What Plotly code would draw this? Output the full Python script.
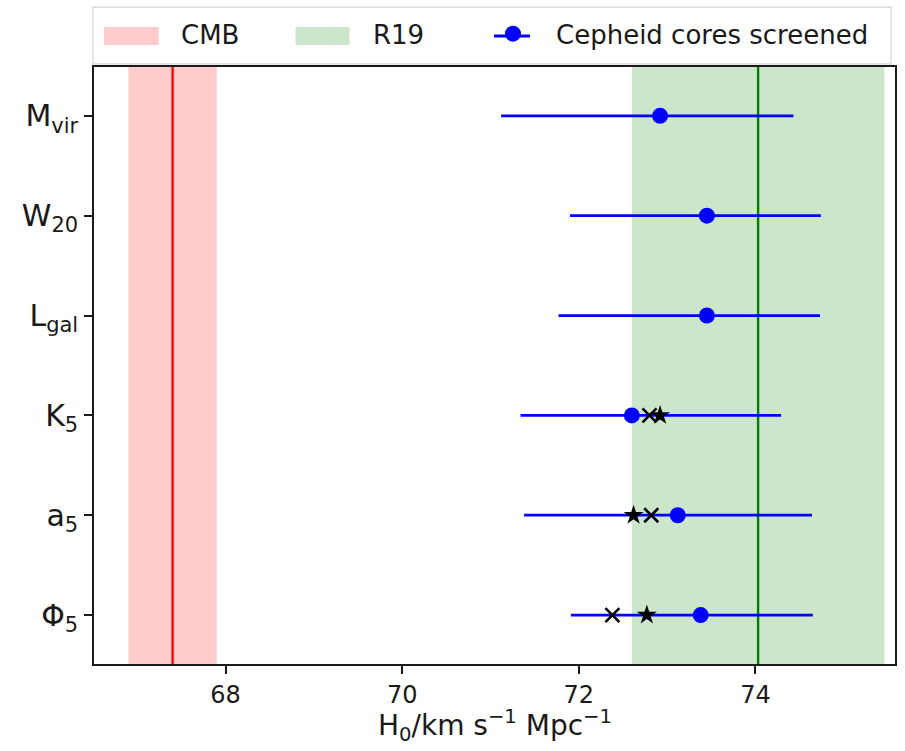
import plotly.graph_objects as go

# Parameters screened (top to bottom) and their axis labels
params = ["Mvir", "W20", "Lgal", "K5", "a5", "Phi5"]
tick_labels = ["M<sub>vir</sub>", "W<sub>20</sub>", "L<sub>gal</sub>",
               "K<sub>5</sub>", "a<sub>5</sub>", "Φ<sub>5</sub>"]

# H0 with Cepheid cores screened: central value and lower/upper bounds
h0_screened = [72.92, 73.45, 73.45, 72.60, 73.12, 73.38]
h0_low = [71.12, 71.90, 71.77, 71.34, 71.38, 71.91]
h0_high = [74.43, 74.74, 74.73, 74.29, 74.64, 74.65]

# Alternative estimates for the last three parameters
star_params = ["K5", "a5", "Phi5"]
h0_star = [72.92, 72.62, 72.77]
cross_params = ["K5", "a5", "Phi5"]
h0_cross = [72.80, 72.82, 72.38]

# Reference values: CMB (Planck) and R19
cmb_h0, cmb_err = 67.4, 0.5
r19_h0, r19_err = 74.03, 1.43

FONT = "DejaVu Sans"
INK = "#1a1a1a"
CMB_FILL = "rgba(255,0,0,0.2)"
R19_FILL = "rgba(0,128,0,0.2)"

W, H = 905, 751
M_L, M_R, M_T, M_B = 94, 8, 65, 87
PLOT_W, PLOT_H = W - M_L - M_R, H - M_T - M_B


def px_x(px):
    """Horizontal pixel position -> paper coordinate."""
    return (px - M_L) / PLOT_W


def px_y(py):
    """Vertical pixel position (from top) -> paper coordinate."""
    return (H - M_B - py) / PLOT_H


err_plus = [h - c for h, c in zip(h0_high, h0_screened)]
err_minus = [c - l for c, l in zip(h0_screened, h0_low)]

fig = go.Figure()

# Legend entries: one legend per entry so each can be placed freely.
# The band swatches are drawn as shapes behind the (transparent) icons.
fig.add_trace(go.Scatter(
    x=[None], y=[None], mode="none", fill="toself",
    fillcolor="rgba(0,0,0,0)", name="CMB", legend="legend",
))
fig.add_trace(go.Scatter(
    x=[None], y=[None], mode="none", fill="toself",
    fillcolor="rgba(0,0,0,0)", name="R19", legend="legend2",
))
fig.add_trace(go.Scatter(
    x=[None], y=[None], mode="markers", name="Cepheid cores screened",
    marker=dict(color="blue", size=16), legend="legend3",
))

# Screened measurements with horizontal error bars
fig.add_trace(go.Scatter(
    x=h0_screened, y=params, mode="markers", showlegend=False,
    marker=dict(color="blue", size=16, symbol="circle"),
    error_x=dict(type="data", symmetric=False, array=err_plus,
                 arrayminus=err_minus, color="blue", thickness=2.8, width=0),
))
fig.add_trace(go.Scatter(
    x=h0_cross, y=cross_params, mode="markers", showlegend=False,
    marker=dict(symbol="x-thin", size=14, color="black",
                line=dict(color="black", width=2.6)),
))
fig.add_trace(go.Scatter(
    x=h0_star, y=star_params, mode="markers", showlegend=False,
    marker=dict(symbol="star", size=15, color="black"),
))

# Reference bands and central lines
fig.add_shape(type="rect", xref="x", yref="y domain",
              x0=cmb_h0 - cmb_err, x1=cmb_h0 + cmb_err, y0=0, y1=1,
              fillcolor=CMB_FILL, line=dict(width=0), layer="below")
fig.add_shape(type="rect", xref="x", yref="y domain",
              x0=r19_h0 - r19_err, x1=r19_h0 + r19_err, y0=0, y1=1,
              fillcolor=R19_FILL, line=dict(width=0), layer="below")
fig.add_shape(type="line", xref="x", yref="y domain",
              x0=cmb_h0, x1=cmb_h0, y0=0, y1=1,
              line=dict(color="red", width=2.4), layer="below")
fig.add_shape(type="line", xref="x", yref="y domain",
              x0=r19_h0, x1=r19_h0, y0=0, y1=1,
              line=dict(color="green", width=2.4), layer="below")

# Legend frame above the axes, with the band swatches and error-bar stub
fig.add_shape(type="rect", xref="paper", yref="paper",
              x0=px_x(93), x1=px_x(893), y0=px_y(62), y1=px_y(5),
              fillcolor="white", line=dict(color="#d4d4d4", width=1.2),
              layer="below")
fig.add_shape(type="rect", xref="paper", yref="paper",
              x0=px_x(104), x1=px_x(159), y0=px_y(43), y1=px_y(25),
              fillcolor=CMB_FILL, line=dict(width=0), layer="below")
fig.add_shape(type="rect", xref="paper", yref="paper",
              x0=px_x(296), x1=px_x(350), y0=px_y(43), y1=px_y(25),
              fillcolor=R19_FILL, line=dict(width=0), layer="below")
fig.add_shape(type="line", xref="paper", yref="paper",
              x0=px_x(495), x1=px_x(531), y0=px_y(34), y1=px_y(34),
              line=dict(color="blue", width=2.8), layer="below")

axis_common = dict(
    showline=True, linecolor=INK, linewidth=1.6, mirror=True,
    ticks="outside", ticklen=8, tickwidth=1.5, tickcolor=INK,
    showgrid=False, zeroline=False,
)

fig.update_xaxes(
    range=[66.51, 75.58], tickvals=[68, 70, 72, 74],
    tickfont=dict(family=FONT, size=24, color=INK),
    **axis_common,
)
fig.update_yaxes(
    type="category", categoryorder="array", categoryarray=params[::-1],
    range=[-0.49, 5.49], tickvals=params, ticktext=tick_labels,
    tickfont=dict(family=FONT, size=30, color=INK),
    **axis_common,
)

# x-axis label
fig.add_annotation(
    text="H<sub>0</sub>/km s<sup>−1</sup> Mpc<sup>−1</sup>",
    xref="paper", yref="paper", x=0.5, y=px_y(703),
    xanchor="center", yanchor="top", showarrow=False,
    font=dict(family=FONT, size=28, color=INK),
)

legend_common = dict(
    orientation="h", xref="container", yref="container",
    xanchor="left", yanchor="middle", y=0.955,
    bgcolor="rgba(0,0,0,0)", borderwidth=0,
    font=dict(family=FONT, size=26, color=INK),
)

fig.update_layout(
    width=W, height=H,
    margin=dict(l=M_L, r=M_R, t=M_T, b=M_B),
    plot_bgcolor="white", paper_bgcolor="white",
    font=dict(family=FONT, size=24, color=INK),
    showlegend=True,
    legend=dict(x=99 / W, itemwidth=72, **legend_common),
    legend2=dict(x=291 / W, itemwidth=72, **legend_common),
    legend3=dict(x=470 / W, itemwidth=76, **legend_common),
)

fig.write_html("out.html")
